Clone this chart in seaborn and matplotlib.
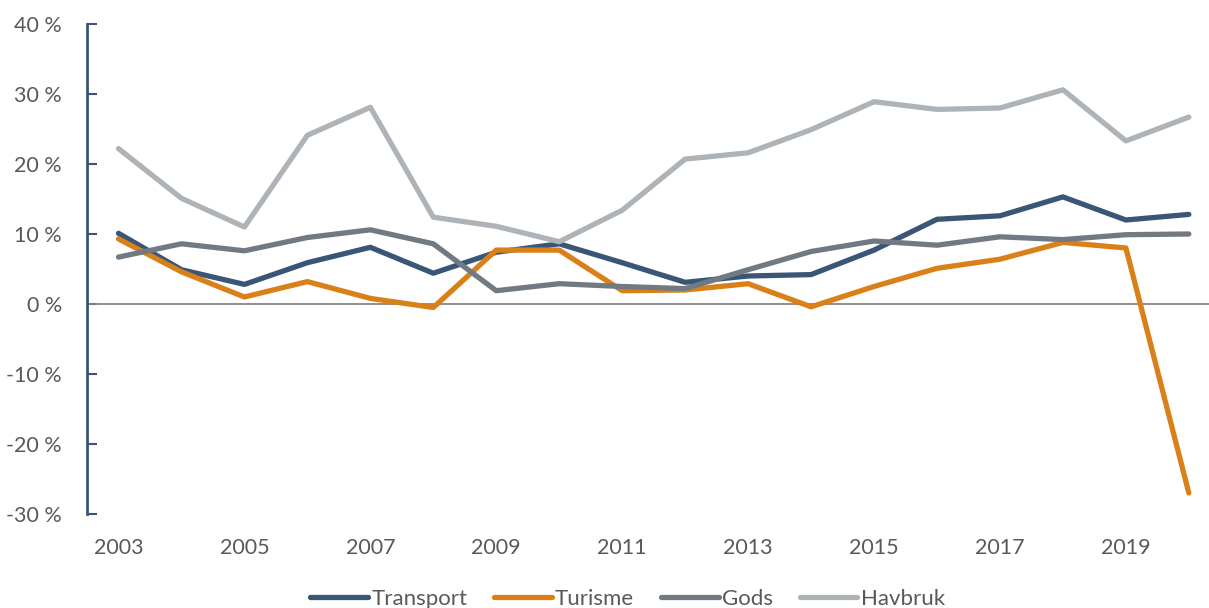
import matplotlib
matplotlib.use("Agg")
import matplotlib.pyplot as plt
import numpy as np
import pandas as pd
import seaborn as sns

years = list(range(2003, 2021))
transport = [10.1, 4.9, 2.8, 5.9, 8.1, 4.4, 7.4, 8.6, 5.9, 3.1, 4.0, 4.2, 7.7, 12.1, 12.6, 15.3, 12.0, 12.8]
turisme = [9.3, 4.6, 1.0, 3.2, 0.8, -0.5, 7.7, 7.7, 1.9, 2.0, 2.9, -0.4, 2.5, 5.1, 6.4, 8.8, 8.0, -27.0]
gods = [6.7, 8.6, 7.6, 9.5, 10.6, 8.6, 1.9, 2.9, 2.5, 2.2, 4.9, 7.5, 9.0, 8.4, 9.6, 9.2, 9.9, 10.0]
havbruk = [22.2, 15.1, 11.0, 24.1, 28.1, 12.4, 11.1, 8.9, 13.4, 20.7, 21.6, 24.9, 28.9, 27.8, 28.0, 30.6, 23.3, 26.7]

series_names = ["Transport", "Turisme", "Gods", "Havbruk"]
colors = ["#3A5677", "#D98019", "#717A82", "#AEB3B8"]
yticks = [-30, -20, -10, 0, 10, 20, 30, 40]
xticks = list(range(2003, 2021, 2))

d = pd.DataFrame({
    "year": years * 4,
    "value": transport + turisme + gods + havbruk,
    "serie": sum([[n] * len(years) for n in series_names], []),
})

sns.set_style("white")
plt.rcParams["font.family"] = ["Lato", "DejaVu Sans"]

fig = plt.figure(figsize=(12.09, 6.08), dpi=100)
ax = fig.add_axes([87 / 1209, 1 - 514 / 608, 1 - 87 / 1209, (514 - 24) / 608])

ax.axhline(0, color="#8C8480", lw=1.3, zorder=1)
sns.lineplot(data=d, x="year", y="value", hue="serie", hue_order=series_names,
             palette=colors, lw=3.8, ax=ax, legend=True, zorder=3)
for ln in ax.lines[1:]:
    ln.set_solid_capstyle("round")

ax.set_xlim(2002.5, 2020.32)
ax.set_ylim(-30, 40)
ax.set_xticks(xticks)
ax.set_yticks(yticks)
ax.set_yticklabels([f"{v} %" for v in yticks])
ax.set_xlabel("")
ax.set_ylabel("")

for s in ["top", "right", "bottom"]:
    ax.spines[s].set_visible(False)
ax.spines["left"].set_color("#3A5677")
ax.spines["left"].set_linewidth(2)

ax.tick_params(axis="y", direction="in", length=7, width=1.5, color="#3A5677",
               labelsize=15.5, labelcolor="#595959", pad=18, left=True)
ax.tick_params(axis="x", length=0, labelsize=15.5, labelcolor="#595959", pad=17)

handles, labels = ax.get_legend_handles_labels()
ax.legend_.remove()
leg = fig.legend(handles, labels, loc="center", bbox_to_anchor=(0.519, 0.015),
                 ncol=4, frameon=False, fontsize=16, handlelength=2.6,
                 handletextpad=0.15, columnspacing=1.2)
for t in leg.get_texts():
    t.set_color("#595959")
for h in leg.get_lines():
    h.set_linewidth(3.8)

fig.savefig("out.png", dpi=100)
